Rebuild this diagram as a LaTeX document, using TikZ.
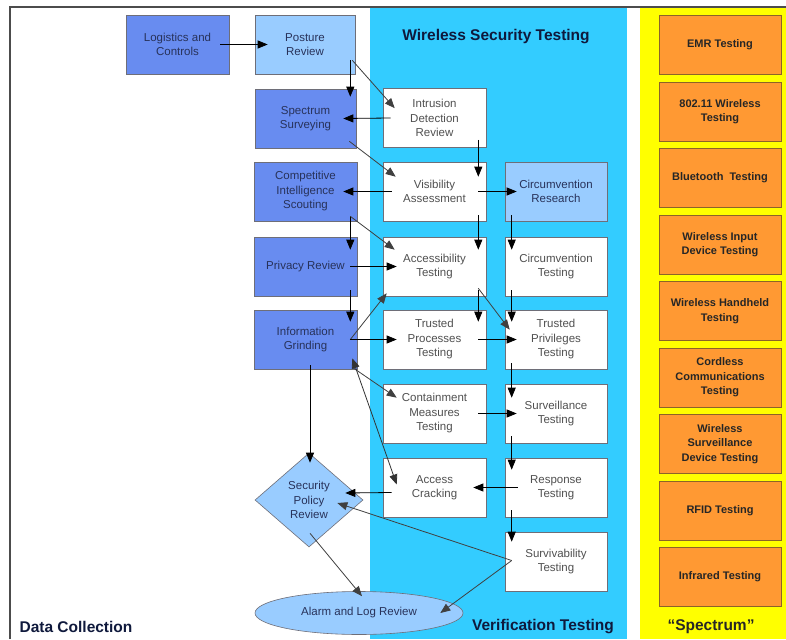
\documentclass[tikz,border=0pt]{standalone}
\usepackage{fontspec}
\setmainfont{Liberation Sans}
\usetikzlibrary{arrows.meta,shapes.geometric,calc}

\definecolor{midblue}{RGB}{104,140,240}
\definecolor{paleblue}{RGB}{153,204,255}
\definecolor{bandblue}{RGB}{51,204,255}
\definecolor{bandyellow}{RGB}{255,255,0}
\definecolor{orangebox}{RGB}{255,153,51}
\definecolor{orangeedge}{RGB}{140,100,40}
\definecolor{boxedge}{RGB}{110,110,120}
\definecolor{bluetext}{RGB}{40,50,90}
\definecolor{greytext}{RGB}{80,80,80}
\definecolor{navytitle}{RGB}{15,25,60}

\tikzset{
  basebox/.style={rectangle, draw=boxedge, line width=0.6pt, align=center,
    minimum width=103pt, minimum height=59pt, inner sep=1pt,
    font=\fontsize{11.5}{14.5}\selectfont},
  collectbox/.style={basebox, fill=midblue, text=bluetext},
  reviewbox/.style={basebox, fill=paleblue, text=bluetext},
  testbox/.style={basebox, fill=white, text=greytext},
  spectrumbox/.style={rectangle, draw=orangeedge, line width=0.6pt, fill=orangebox,
    align=center, minimum width=122pt, minimum height=59pt, inner sep=1pt,
    text=black!85, font=\bfseries\fontsize{11}{14.5}\selectfont},
  bandtitle/.style={font=\bfseries\fontsize{15.5}{18}\selectfont, text=navytitle},
  arr/.style={draw=black, line width=0.8pt, -{Triangle[length=10pt,width=8pt]}},
  biarr/.style={draw=black!80, line width=0.8pt,
    {Triangle[length=10pt,width=8pt]}-{Triangle[length=10pt,width=8pt]}},
  slant/.style={arr, draw=black!75}
}

\begin{document}
\begin{tikzpicture}[x=1pt,y=-1pt]
  \useasboundingbox (0,0) rectangle (786,639);

  % column backgrounds and frame
  \fill[white] (0,0) rectangle (786,639);
  \fill[bandblue] (370,8) rectangle (627,639);
  \fill[bandyellow] (640,8) rectangle (786,639);
  \draw[black!70, line width=1.6pt] (10,639) -- (10,7) -- (786,7);

  % band titles
  \node[bandtitle] (wst) at (496,37) {Wireless Security Testing};
  \node[bandtitle] (dct) at (76,627) {Data Collection};
  \node[bandtitle] (vft) at (543,627) {Verification Testing};
  \node[bandtitle, text=black!85] (spt) at (711,627) {“Spectrum”};

  % data collection
  \node[collectbox] (logi) at (177.5,44.5) {Logistics and\\Controls};
  \node[reviewbox, minimum width=100pt] (post) at (305,44.5) {Posture\\Review};
  \node[collectbox, minimum width=101pt] (spec) at (305.5,118.5) {Spectrum\\Surveying};
  \node[collectbox] (comp) at (305.5,191.5) {Competitive\\Intelligence\\Scouting};
  \node[collectbox] (priv) at (305.5,266.5) {Privacy Review};
  \node[collectbox] (info) at (305.5,339.5) {Information\\Grinding};
  \node[diamond, draw=boxedge, line width=0.6pt, fill=paleblue, text=bluetext,
        minimum width=108pt, minimum height=94pt, inner sep=0pt, align=center,
        font=\fontsize{11.5}{14.5}\selectfont] (secp) at (309,500) {Security\\Policy\\Review};
  \node[ellipse, draw=boxedge, line width=0.6pt, fill=paleblue, text=bluetext,
        minimum width=208pt, minimum height=43pt, inner sep=0pt,
        font=\fontsize{11.5}{14.5}\selectfont] (alarm) at (359,613) {Alarm and Log Review};

  % verification, first column
  \node[testbox] (ids) at (434.5,118) {Intrusion\\Detection\\Review};
  \node[testbox] (vis) at (434.5,191.5) {Visibility\\Assessment};
  \node[testbox] (acc) at (434.5,266.5) {Accessibility\\Testing};
  \node[testbox] (tproc) at (434.5,339.5) {Trusted\\Processes\\Testing};
  \node[testbox] (cont) at (434.5,413.5) {Containment\\Measures\\Testing};
  \node[testbox] (acr) at (434.5,487.5) {Access\\Cracking};

  % verification, second column
  \node[reviewbox, minimum width=102pt] (cres) at (556,191.5) {Circumvention\\Research};
  \node[testbox, minimum width=102pt] (ctest) at (556,266.5) {Circumvention\\Testing};
  \node[testbox, minimum width=102pt] (tpriv) at (556,339.5) {Trusted\\Privileges\\Testing};
  \node[testbox, minimum width=102pt] (surv) at (556,413.5) {Surveillance\\Testing};
  \node[testbox, minimum width=102pt] (resp) at (556,487.5) {Response\\Testing};
  \node[testbox, minimum width=102pt] (surviv) at (556,561.5) {Survivability\\Testing};

  % spectrum column
  \node[spectrumbox] (emr) at (720,44.5) {EMR Testing};
  \node[spectrumbox] (wifi) at (720,111.5) {802.11 Wireless\\Testing};
  \node[spectrumbox] (blue) at (720,178) {Bluetooth\ \ Testing};
  \node[spectrumbox] (winp) at (720,244.5) {Wireless Input\\Device Testing};
  \node[spectrumbox] (whand) at (720,311) {Wireless Handheld\\Testing};
  \node[spectrumbox] (cord) at (720,377.5) {Cordless\\Communications\\Testing};
  \node[spectrumbox] (wsurv) at (720,444) {Wireless\\Surveillance\\Device Testing};
  \node[spectrumbox] (rfid) at (720,510.5) {RFID Testing};
  \node[spectrumbox] (infra) at (720,577) {Infrared Testing};

  % connectors
  \draw[arr] ($(logi.east)+(-9,0)$) -- ($(post.west)+(13,0)$);
  \draw[arr] ($(post.south east)+(-5,-14)$) -- ($(spec.north east)+(-6,8)$);
  \draw[slant] ($(post.south east)+(-3,-14)$) -- ($(ids.north west)+(12,20)$);
  \draw[arr] ($(ids.west)+(8,0)$) -- ($(spec.east)+(-13,0)$);
  \draw[slant] ($(spec.south east)+(-7,-7)$) -- ($(vis.north west)+(13,15)$);
  \draw[arr] ($(ids.south east)+(-8,-8)$) -- ($(vis.north east)+(-8,15)$);
  \draw[arr] ($(vis.west)+(9,0)$) -- ($(comp.east)+(-14,0)$);
  \draw[arr] ($(vis.east)+(-8,0)$) -- ($(cres.west)+(12,0)$);
  \draw[arr] ($(vis.south east)+(-8,-6)$) -- ($(acc.north east)+(-8,13)$);
  \draw[arr] ($(cres.south west)+(7,-6)$) -- ($(ctest.north west)+(7,13)$);
  \draw[arr] ($(comp.south east)+(-7,-5)$) -- ($(priv.north east)+(-7,13)$);
  \draw[slant] ($(comp.south east)+(-7,-5)$) -- ($(acc.north west)+(12,13)$);
  \draw[arr] ($(priv.east)+(-7,0)$) -- ($(acc.west)+(14,0)$);
  \draw[slant] ($(info.east)+(-7,0)$) -- ($(acc.south west)+(4,-3)$);
  \draw[arr] ($(priv.south east)+(-7,-6)$) -- ($(info.north east)+(-7,12)$);
  \draw[arr] ($(info.east)+(-7,0)$) -- ($(tproc.west)+(14,0)$);
  \draw[arr] ($(acc.south east)+(-8,-6)$) -- ($(tproc.north east)+(-8,12)$);
  \draw[slant] ($(acc.south east)+(-8,-8)$) -- ($(tpriv.north west)+(5,20)$);
  \draw[arr] ($(ctest.south west)+(7,-6)$) -- ($(tpriv.north west)+(7,12)$);
  \draw[arr] ($(tproc.east)+(-8,0)$) -- ($(tpriv.west)+(12,0)$);
  \draw[slant] ($(info.south east)+(-5,-2)$) -- ($(cont.north west)+(14,14)$);
  \draw[arr] ($(tpriv.south west)+(7,-6)$) -- ($(surv.north west)+(7,14)$);
  \draw[arr] ($(cont.east)+(-8,0)$) -- ($(surv.west)+(12,0)$);
  \draw[arr] ($(info.south)+(4.5,-4)$) -- ($(secp.north)+(1,10)$);
  \draw[biarr] ($(info.south east)+(-5,-11)$) -- ($(acr.west)+(14,-3)$);
  \draw[arr] ($(surv.south west)+(7,-7)$) -- ($(resp.north west)+(7,12)$);
  \draw[arr] ($(resp.west)+(13,0)$) -- ($(acr.east)+(-13,0)$);
  \draw[arr] ($(acr.west)+(9,5)$) -- ($(secp.east)+(-18,-7)$);
  \draw[arr] ($(resp.south west)+(7,-7)$) -- ($(surviv.north west)+(7,10)$);
  \draw[slant] ($(surviv.west)+(7,-1)$) -- ($(secp.east)+(-26,3)$);
  \draw[slant] ($(surviv.west)+(7,-1)$) -- ($(alarm.east)+(-23,0)$);
  \draw[slant] ($(secp.south)+(1,-14)$) -- ($(alarm.north)+(3,5)$);
\end{tikzpicture}
\end{document}
